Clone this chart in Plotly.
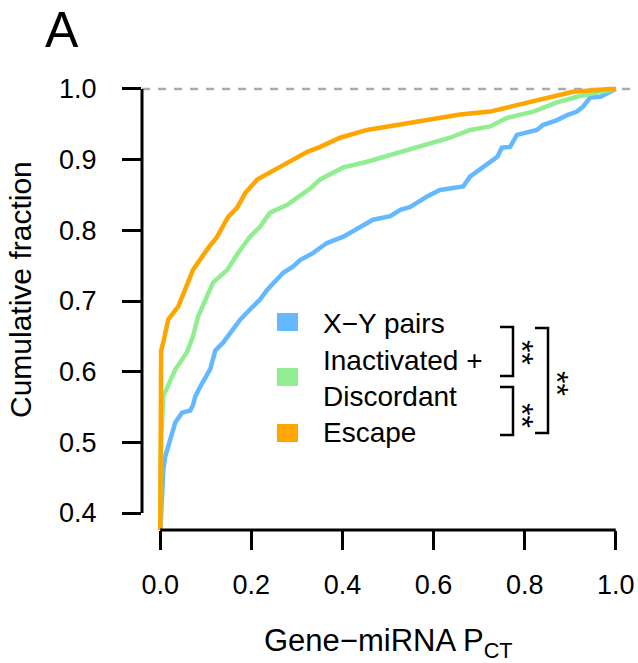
import plotly.graph_objects as go

# ---------------- data ----------------
xy_x = [0.0, 0.004, 0.0066, 0.011, 0.018, 0.026, 0.033, 0.048, 0.066, 0.072, 0.077, 0.088,
        0.110, 0.121, 0.138, 0.154, 0.176, 0.197, 0.219, 0.235, 0.257, 0.270, 0.292, 0.307,
        0.336, 0.366, 0.402, 0.439, 0.467, 0.505, 0.527, 0.549, 0.586, 0.614, 0.665, 0.680,
        0.702, 0.724, 0.740, 0.750, 0.768, 0.783, 0.805, 0.827, 0.840, 0.871, 0.893, 0.915,
        0.928, 0.944, 0.966, 0.987, 1.0]
xy_y = [0.37, 0.419, 0.461, 0.480, 0.494, 0.513, 0.528, 0.542, 0.545, 0.553, 0.565, 0.579,
        0.604, 0.630, 0.641, 0.655, 0.674, 0.688, 0.702, 0.716, 0.730, 0.740, 0.749, 0.758,
        0.768, 0.782, 0.791, 0.805, 0.815, 0.820, 0.829, 0.833, 0.848, 0.857, 0.862, 0.876,
        0.886, 0.896, 0.904, 0.917, 0.918, 0.935, 0.939, 0.942, 0.949, 0.956, 0.963, 0.968,
        0.975, 0.988, 0.989, 0.996, 1.0]

inact_x = [0.0, 0.002, 0.0066, 0.0176, 0.033, 0.059, 0.072, 0.083, 0.099, 0.116, 0.147, 0.171,
           0.197, 0.219, 0.241, 0.279, 0.307, 0.329, 0.351, 0.402, 0.454, 0.527, 0.586, 0.636,
           0.680, 0.724, 0.761, 0.819, 0.871, 0.915, 0.959, 1.0]
inact_y = [0.37, 0.50, 0.565, 0.581, 0.603, 0.628, 0.650, 0.678, 0.702, 0.726, 0.744, 0.768,
           0.791, 0.805, 0.825, 0.836, 0.849, 0.859, 0.872, 0.889, 0.897, 0.910, 0.921, 0.931,
           0.942, 0.947, 0.959, 0.968, 0.981, 0.989, 0.995, 1.0]

esc_x = [0.0, 0.002, 0.0066, 0.0176, 0.0395, 0.055, 0.072, 0.103, 0.125, 0.149, 0.169, 0.187,
         0.213, 0.241, 0.279, 0.323, 0.351, 0.395, 0.454, 0.520, 0.586, 0.658, 0.724, 0.805,
         0.862, 0.906, 0.987, 1.0]
esc_y = [0.37, 0.63, 0.641, 0.674, 0.692, 0.716, 0.744, 0.773, 0.791, 0.819, 0.832, 0.853,
         0.872, 0.882, 0.896, 0.911, 0.918, 0.931, 0.942, 0.949, 0.957, 0.964, 0.968, 0.981,
         0.989, 0.996, 1.0, 1.0]

series_names = ["X\u2212Y pairs", "Inactivated +", "Discordant", "Escape"]
colors = ["#63B8FF", "#90EE90", "#FFA500"]
sig_label = "**"

x_ticks = [0.0, 0.2, 0.4, 0.6, 0.8, 1.0]
y_ticks = [0.4, 0.5, 0.6, 0.7, 0.8, 0.9, 1.0]
x_range = [-0.04, 1.04]
y_range = [0.376, 1.024]

# ---------------- layout geometry ----------------
W, H = 638, 663
ML, MR, MT, MB = 142, 4, 72, 133
PW, PH = W - ML - MR, H - MT - MB
FONT = "Liberation Sans, Arial, Helvetica, sans-serif"


def px(xp):
    return (xp - ML) / PW


def py(yp):
    return (H - MB - yp) / PH


fig = go.Figure()
for xs, ys, c, nm in [(xy_x, xy_y, colors[0], series_names[0]),
                      (inact_x, inact_y, colors[1], series_names[1] + " " + series_names[2]),
                      (esc_x, esc_y, colors[2], series_names[3])]:
    fig.add_trace(go.Scatter(x=xs, y=ys, mode="lines", name=nm,
                             line=dict(color=c, width=4.5), showlegend=False,
                             hoverinfo="skip"))

shapes = []
# dashed reference at 1.0
shapes.append(dict(type="line", xref="paper", yref="y", x0=0, x1=1, y0=1.0, y1=1.0,
                   line=dict(color="#ABABAB", width=2.5, dash="8px,8px"), layer="below"))
# axis lines (R style, spanning the tick range)
shapes.append(dict(type="line", xref="paper", yref="y", x0=0, x1=0,
                   y0=y_ticks[0], y1=y_ticks[-1], line=dict(color="black", width=3)))
shapes.append(dict(type="line", xref="x", yref="paper", x0=x_ticks[0], x1=x_ticks[-1],
                   y0=0, y1=0, line=dict(color="black", width=3)))

annotations = []
# legend squares + texts
sq = [(313, 331), (368, 386), (424, 442)]
for (t, b), c in zip(sq, colors):
    shapes.append(dict(type="rect", xref="paper", yref="paper", x0=px(277), x1=px(298),
                       y0=py(b), y1=py(t), fillcolor=c, line=dict(width=0)))
leg_text_y = [323, 360, 396, 432]
for txt, yy in zip(series_names, leg_text_y):
    annotations.append(dict(text=txt, xref="paper", yref="paper", x=px(321), y=py(yy),
                            xanchor="left", yanchor="middle", showarrow=False,
                            font=dict(family=FONT, size=28, color="black")))

# significance brackets
def bracket(xl, xr, yt, yb):
    return [dict(type="path", xref="paper", yref="paper",
                 path=f"M {px(xl)} {py(yt)} L {px(xr)} {py(yt)} L {px(xr)} {py(yb)} L {px(xl)} {py(yb)}",
                 line=dict(color="black", width=2.5))]

shapes += bracket(500, 513, 327, 376)
shapes += bracket(500, 513, 387, 435)
shapes += bracket(535, 548, 328, 433)
for sx, sy in [(526, 352), (526, 415), (561, 383)]:
    annotations.append(dict(text=sig_label, xref="paper", yref="paper", x=px(sx), y=py(sy),
                            xanchor="center", yanchor="middle", showarrow=False,
                            textangle=90, xshift=-4,
                            font=dict(family=FONT, size=32, color="black")))

# axis titles and panel label
annotations.append(dict(text="Gene\u2212miRNA P<sub>CT</sub>", xref="paper", yref="paper",
                        x=px(388), y=py(643), xanchor="center", yanchor="middle",
                        showarrow=False, font=dict(family=FONT, size=31, color="black")))
annotations.append(dict(text="Cumulative fraction", xref="paper", yref="paper",
                        x=px(20), y=py(290), xanchor="center", yanchor="middle",
                        textangle=-90, showarrow=False,
                        font=dict(family=FONT, size=30, color="black")))
annotations.append(dict(text="A", xref="paper", yref="paper", x=px(62), y=py(30),
                        xanchor="center", yanchor="middle", showarrow=False,
                        font=dict(family=FONT, size=50, color="black")))

fig.update_layout(
    width=W, height=H,
    margin=dict(l=ML, r=MR, t=MT, b=MB),
    paper_bgcolor="white", plot_bgcolor="white",
    shapes=shapes, annotations=annotations,
    showlegend=False,
    xaxis=dict(range=x_range, tickvals=x_ticks, tickformat=".1f", ticks="outside",
               ticklen=19, tickwidth=3, tickcolor="black", showline=False,
               showgrid=False, zeroline=False, ticklabelstandoff=12,
               tickfont=dict(family=FONT, size=27, color="black")),
    yaxis=dict(range=y_range, tickvals=y_ticks, tickformat=".1f", ticks="outside",
               ticklen=19, tickwidth=3, tickcolor="black", showline=False,
               showgrid=False, zeroline=False, ticklabelstandoff=20,
               tickfont=dict(family=FONT, size=27, color="black")),
)

fig.write_html("out.html")
